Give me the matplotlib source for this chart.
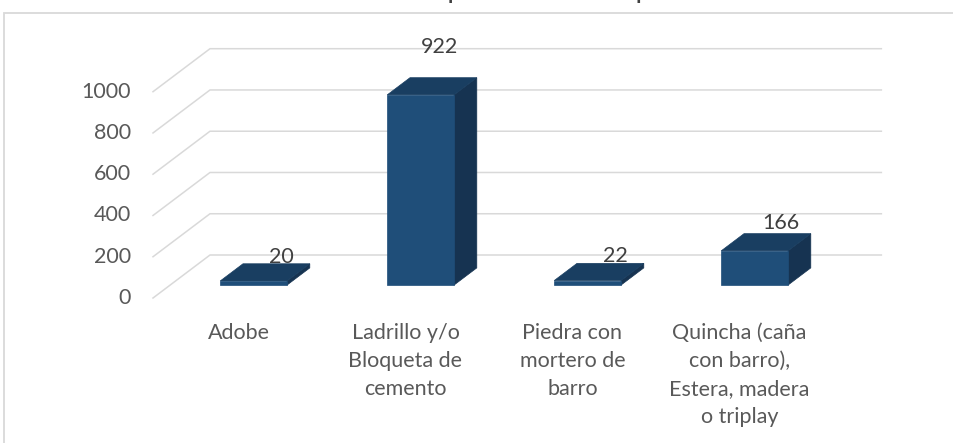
import matplotlib
matplotlib.use("Agg")
import matplotlib.pyplot as plt
from matplotlib.patches import Polygon, Rectangle
from matplotlib.lines import Line2D
from matplotlib.transforms import IdentityTransform

# ---- data ----
categories = ["Adobe", "Ladrillo y/o\nBloqueta de\ncemento", "Piedra con\nmortero de\nbarro",
              "Quincha (caña\ncon barro),\nEstera, madera\no triplay"]
values = [20, 922, 22, 166]
y_ticks = [0, 200, 400, 600, 800, 1000]
title = "Material predominante en las paredes"

FONT = ["Lato", "DejaVu Sans"]
W, H, DPI = 954, 443, 100
fig = plt.figure(figsize=(W / DPI, H / DPI), dpi=DPI)
fig.patch.set_facecolor("white")

# front plane axes (category units x value units)
left_px, right_px = 153, 153 + 4 * 167.0
bottom_px, top_px = 298, 91.7
ax = fig.add_axes([left_px / W, (H - bottom_px) / H, (right_px - left_px) / W, (bottom_px - top_px) / H])
ax.set_xlim(0, len(categories))
ax.set_ylim(0, 1000)
ax.axis("off")

DX, DY = 57.0, 43.0  # depth offset in pixels


def P(c, v, d):
    x, y = ax.transData.transform((c, v))
    return (x + DX * d, y + DY * d)


grid_c = "#d9d9d9"
for v in y_ticks:
    pts = [P(0, v, 0), P(0, v, 1), P(len(categories) + 0.02, v, 1)]
    fig.add_artist(Line2D([p[0] for p in pts], [p[1] for p in pts], transform=IdentityTransform(),
                          color=grid_c, lw=1.1, zorder=1))
    x0, y0 = P(0, v, 0)
    fig.text(x0 - 22, y0, f"{v}", transform=IdentityTransform(), ha="right", va="center",
             fontsize=15.5, color="#595959", family=FONT)

front_c, top_c, side_c = "#1F4E79", "#193E61", "#163351"
bw = 0.4
d0, d1 = 0.3, 0.7
for i, v in enumerate(values):
    cl, cr = i + 0.5 - bw / 2, i + 0.5 + bw / 2
    front = [P(cl, 0, d0), P(cr, 0, d0), P(cr, v, d0), P(cl, v, d0)]
    side = [P(cr, 0, d0), P(cr, 0, d1), P(cr, v, d1), P(cr, v, d0)]
    top = [P(cl, v, d0), P(cr, v, d0), P(cr, v, d1), P(cl, v, d1)]
    for poly, col in ((side, side_c), (top, top_c), (front, front_c)):
        fig.add_artist(Polygon(poly, closed=True, transform=IdentityTransform(), facecolor=col,
                               edgecolor=col, lw=0.5, zorder=3))
    # value label
    fx, fy = P(i + 0.5, v, 0)
    fig.text(fx + 45 - 0.0098 * v, fy + 36.6 + 0.0265 * v, f"{v}", transform=IdentityTransform(),
             ha="center", va="center", fontsize=15.5, color="#404040", family=FONT, zorder=5)
    # category label
    cx, cy = P(i + 0.5, 0, 0)
    fig.text(cx + 2, cy - 25, categories[i], transform=IdentityTransform(), ha="center", va="top",
             fontsize=15.5, color="#595959", family=FONT, linespacing=1.5, multialignment="center")

# chart area border
fig.add_artist(Rectangle((4, -10), W + 20, H - 13 + 10, transform=IdentityTransform(),
                         fill=False, edgecolor="#d9d9d9", lw=1.3, zorder=0))

# title: only its descenders reach into the visible area (as in the reference)
renderer = fig.canvas.get_renderer()


def _w(s, size):
    t = fig.text(0, 0, s, fontsize=size, fontweight="bold", family=FONT)
    w = t.get_window_extent(renderer).width
    t.remove()
    return w


i1 = title.index("p")
i2 = title.index("p", i1 + 1)
base = 20
pw = _w("p", base)
off1 = _w(title[:i1 + 1], base) - pw / 2
off2 = _w(title[:i2 + 1], base) - pw / 2
size = base * 188.0 / (off2 - off1)
scale = size / base
x_left = 454 - off1 * scale
fig.text(x_left, H + size * 1.389 * 0.21 - 3, title, transform=IdentityTransform(), ha="left",
         va="baseline", fontsize=size, fontweight="bold", color="#404040", family=FONT)

fig.savefig("out.png", dpi=DPI, facecolor="white")
